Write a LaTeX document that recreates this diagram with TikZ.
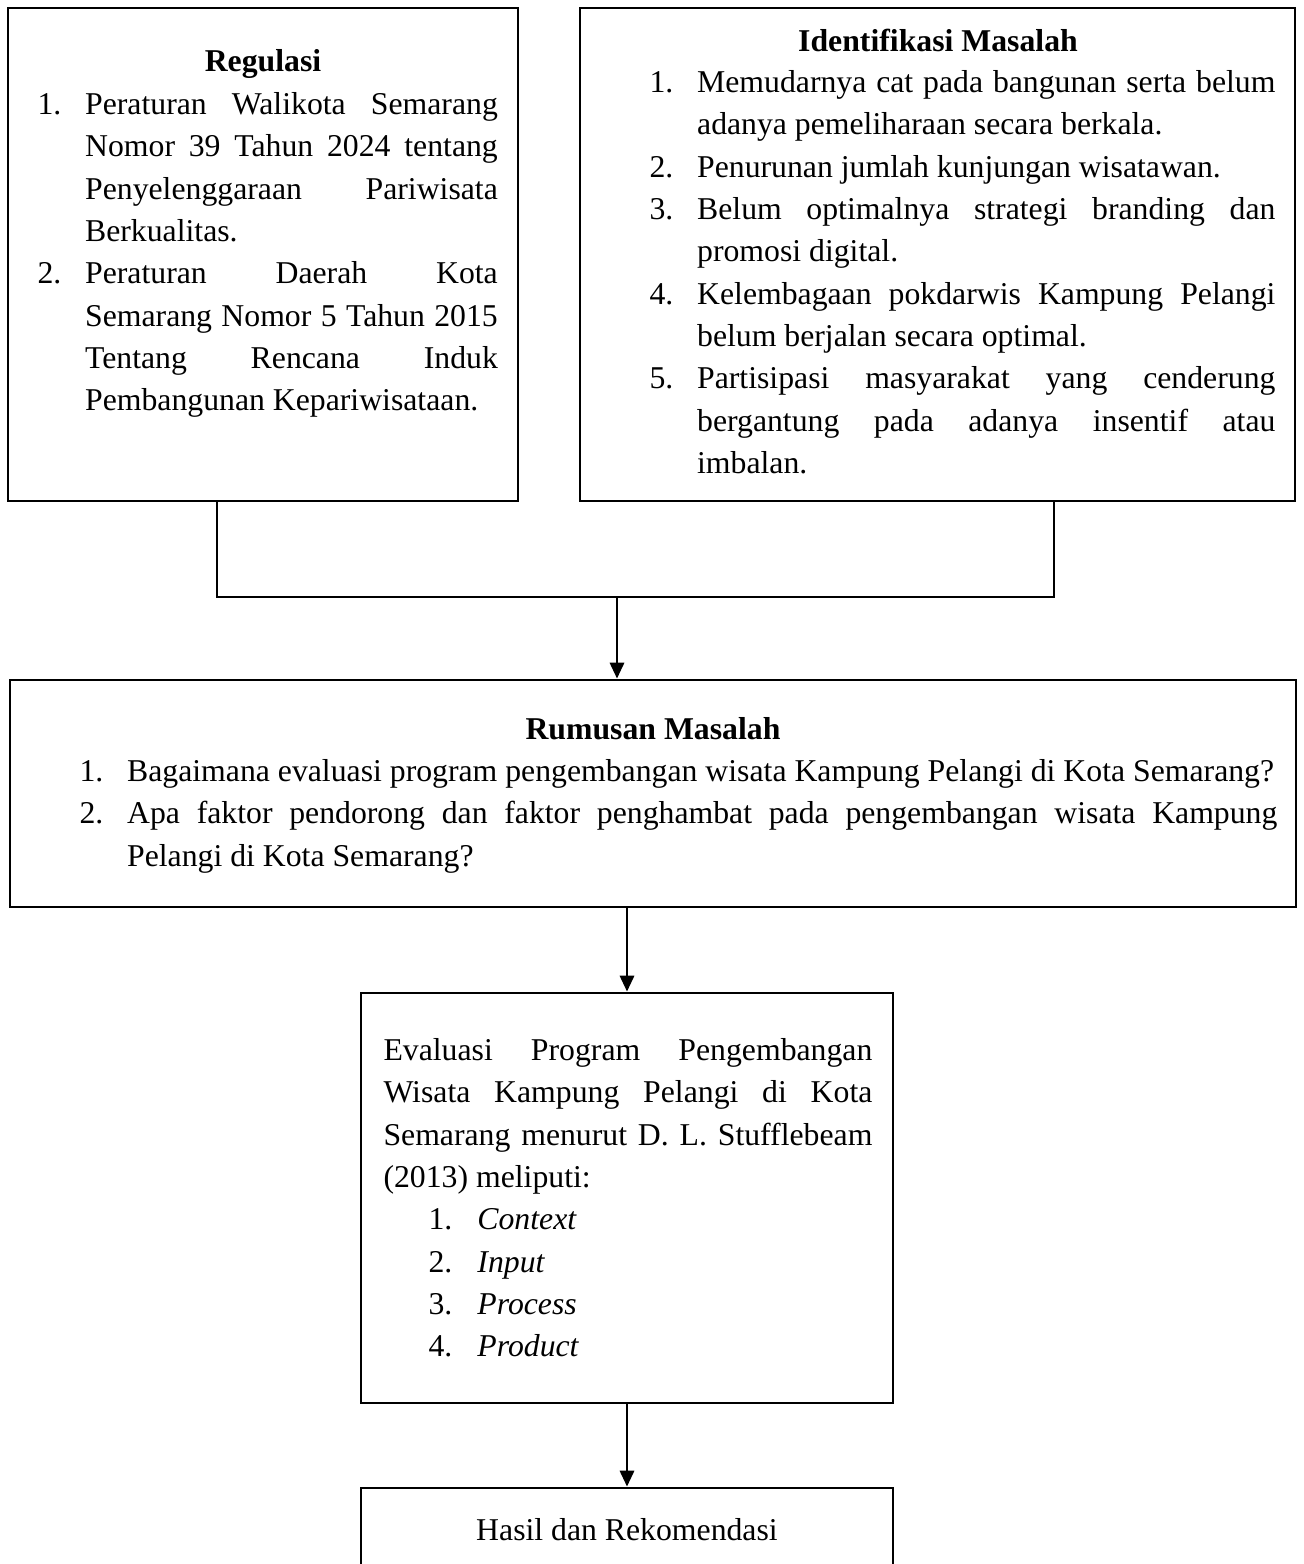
\documentclass[tikz,border=0pt]{standalone}
\usepackage{fontspec}
\setmainfont{Liberation Serif}
\usetikzlibrary{fit}
\usetikzlibrary{arrows.meta}
\hyphenpenalty=10000
\exhyphenpenalty=10000
\tolerance=10000
\newcommand{\itm}[1]{\hangindent=18pt\hangafter=1\noindent\rule{0pt}{11pt}\makebox[18pt][l]{#1.}\ignorespaces}
\newcommand{\subitm}[1]{\par\noindent\hspace*{17pt}\makebox[18.5pt][l]{#1.}\ignorespaces}
\tikzset{x=0.378pt, y=-0.378pt, % One unit is one pixel of the sketch
      box/.style={ % Frame round each block
      draw, line width=1.1pt, inner sep=0pt},
      title/.style={anchor=base, font=\bfseries\fontsize{12}{16}\selectfont},
      listtext/.style={ % Justified text inside a block
      anchor=north west, inner sep=0pt, align=justify,
      font=\fontsize{12}{16}\selectfont},
      link/.style={line width=0.9pt},
      arr/.style={link, -{Triangle[width=5.4pt,length=6pt]}}}

\begin{document}
\begin{tikzpicture}
      \useasboundingbox (0,0) rectangle (1303,1564);
      % blocks
      \node[box, fit={(8,8) (518,501)}] (reg) {};
      \node[box, fit={(580,8) (1295,501)}] (idn) {};
      \node[box, fit={(10,680) (1296,907)}] (rum) {};
      \node[box, fit={(361,993) (893,1403)}] (eva) {};
      \node[box, fit={(361,1488) (893,1594)}, font=\fontsize{12}{16}\selectfont] (has) {Hasil dan Rekomendasi};
      % texts
      \node[title] (regtitle) at (263,72) {Regulasi};
      \node[listtext, text width=174pt] (reglist) at (37,85) {%
            \itm{1}Peraturan Walikota Semarang\linebreak Nomor 39 Tahun 2024 tentang\linebreak Penyelenggaraan Pariwisata\linebreak Berkualitas.\par
            \itm{2}Peraturan Daerah Kota\linebreak Semarang Nomor 5 Tahun 2015\linebreak Tentang Rencana Induk\linebreak Pembangunan Kepariwisataan.\par};
      \node[title] (idntitle) at (938,52) {Identifikasi Masalah};
      \node[listtext, text width=236.6pt] (idnlist) at (649,63) {%
            \itm{1}Memudarnya cat pada bangunan serta belum\linebreak adanya pemeliharaan secara berkala.\par
            \itm{2}Penurunan jumlah kunjungan wisatawan.\par
            \itm{3}Belum optimalnya strategi branding dan\linebreak promosi digital.\par
            \itm{4}Kelembagaan pokdarwis Kampung Pelangi\linebreak belum berjalan secara optimal.\par
            \itm{5}Partisipasi masyarakat yang cenderung\linebreak bergantung pada adanya insentif atau\linebreak imbalan.\par};
      \node[title] (rumtitle) at (653,739) {Rumusan Masalah};
      \node[listtext, text width=452.8pt] (rumlist) at (79,752) {%
            \itm{1}Bagaimana evaluasi program pengembangan wisata Kampung Pelangi di Kota Semarang?\par
            \itm{2}Apa faktor pendorong dan faktor penghambat pada pengembangan wisata Kampung\linebreak Pelangi di Kota Semarang?\par};
      \node[listtext, text width=184.8pt] (evatext) at (383,1031) {%
            \noindent\rule{0pt}{11pt}Evaluasi Program Pengembangan\linebreak Wisata Kampung Pelangi di Kota\linebreak Semarang menurut D. L. Stufflebeam\linebreak (2013) meliputi:
            \subitm{1}\textit{Context}
            \subitm{2}\textit{Input}
            \subitm{3}\textit{Process}
            \subitm{4}\textit{Product}\par};
      % connectors
      \coordinate (rj) at (217,597);
      \coordinate (ij) at (1054,597);
      \coordinate (mj) at (617,597);
      \draw[link] (reg.south -| rj) -- (rj) -- (ij) -- (idn.south -| ij);
      \draw[arr] (mj) -- (rum.north -| mj);
      \draw[arr] (rum.south -| eva.north) -- (eva.north);
      \draw[arr] (eva) -- (has);
\end{tikzpicture}
\end{document}
